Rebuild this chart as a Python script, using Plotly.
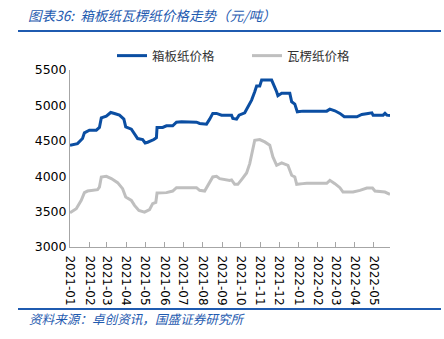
import plotly.graph_objects as go

blue_dates = ["2021-01-01","2021-01-13","2021-01-21","2021-01-24","2021-02-01","2021-02-12","2021-02-17","2021-02-20",
"2021-02-28","2021-03-07","2021-03-13","2021-03-21","2021-03-28","2021-03-31","2021-04-09","2021-04-14","2021-04-19",
"2021-04-27","2021-05-01","2021-05-05","2021-05-15","2021-05-19","2021-05-20","2021-05-29","2021-06-04","2021-06-14",
"2021-06-20","2021-06-28","2021-07-22","2021-07-27","2021-08-07","2021-08-12","2021-08-17","2021-08-23","2021-08-31",
"2021-09-16","2021-09-18","2021-09-24","2021-09-28","2021-10-07","2021-10-12","2021-10-18","2021-10-23","2021-10-26",
"2021-10-31","2021-11-03","2021-11-19","2021-11-23","2021-11-27","2021-11-29","2021-12-05","2021-12-18","2021-12-21",
"2021-12-26","2021-12-30","2022-01-08","2022-02-15","2022-02-20","2022-02-28","2022-03-08","2022-03-15","2022-04-04",
"2022-04-12","2022-04-22","2022-04-28","2022-04-30","2022-05-16","2022-05-19","2022-05-22","2022-05-27"]
blue_vals = [4438,4460,4532,4612,4650,4650,4688,4824,4848,4900,4885,4862,4806,4697,4664,4603,4532,
4518,4470,4480,4518,4545,4688,4688,4711,4711,4763,4768,4763,4745,4735,4806,4887,4887,4862,
4862,4815,4806,4862,4895,4980,5075,5193,5273,5273,5358,5358,5287,5193,5136,5170,5170,5051,
5018,4909,4919,4919,4947,4924,4887,4839,4839,4872,4887,4895,4862,4862,4887,4862,4858]

gray_dates = ["2021-01-01","2021-01-11","2021-01-19","2021-01-24","2021-01-29","2021-02-14","2021-02-17","2021-02-20",
"2021-02-28","2021-03-08","2021-03-18","2021-03-26","2021-03-31","2021-04-09","2021-04-14","2021-04-21","2021-04-30",
"2021-05-08","2021-05-13","2021-05-18","2021-05-20","2021-06-04","2021-06-14","2021-06-20","2021-07-22","2021-07-27",
"2021-08-04","2021-08-09","2021-08-17","2021-08-23","2021-08-28","2021-09-13","2021-09-16","2021-09-21","2021-09-26",
"2021-10-02","2021-10-10","2021-10-15","2021-10-20","2021-10-23","2021-10-31","2021-11-08","2021-11-16","2021-11-21",
"2021-11-27","2021-12-05","2021-12-15","2021-12-21","2021-12-26","2021-12-29","2022-01-08","2022-01-14","2022-02-15",
"2022-02-20","2022-02-28","2022-03-08","2022-03-13","2022-03-29","2022-04-09","2022-04-20","2022-04-29","2022-05-03",
"2022-05-19","2022-05-27"]
gray_vals = [3484,3541,3659,3768,3790,3810,3847,3989,3998,3966,3909,3824,3705,3659,3588,3517,3493,
3527,3612,3630,3762,3768,3790,3838,3838,3800,3790,3871,3989,3998,3966,3940,3948,3885,3885,
3952,4045,4178,4367,4508,4518,4484,4438,4272,4154,4187,4154,4013,3989,3885,3895,3900,3900,
3942,3895,3838,3776,3776,3800,3833,3833,3790,3776,3744]

series_names = ["箱板纸价格", "瓦楞纸价格"]
y_ticks = [3000, 3500, 4000, 4500, 5000, 5500]
title_text = "图表36:  箱板纸瓦楞纸价格走势（元/吨）"
source_text = "资料来源：卓创资讯，国盛证券研究所"

BLUE = "#0B4EA2"
GRAY = "#BFBFBF"
TXT_BLUE = "#1F5BB0"

PL, PR, PT, PB = 70, 390, 70, 247
PW, PH = PR - PL, PB - PT

def px(x):
    return (x - PL) / PW

def py(y):
    return (PB - y) / PH

fig = go.Figure()
fig.add_trace(go.Scatter(x=blue_dates, y=blue_vals, mode="lines", name=series_names[0],
                         line=dict(color=BLUE, width=3)))
fig.add_trace(go.Scatter(x=gray_dates, y=gray_vals, mode="lines", name=series_names[1],
                         line=dict(color=GRAY, width=3)))

fig.update_layout(
    width=444, height=339,
    margin=dict(l=PL, r=444 - PR, t=PT, b=339 - PB),
    paper_bgcolor="white", plot_bgcolor="white",
    font=dict(family="Noto Sans CJK SC, DejaVu Sans", color="#000000"),
    showlegend=True,
    legend=dict(orientation="h", x=px(112), xanchor="left", y=py(56), yanchor="middle",
                font=dict(size=12.5, color="#333333"), entrywidth=90, entrywidthmode="pixels",
                itemwidth=30, bgcolor="rgba(0,0,0,0)"),
    xaxis=dict(type="date", range=["2021-01-01", "2022-05-27"],
               dtick="M1", tick0="2021-01-01", tickformat="%Y-%m", tickangle=90,
               showgrid=False, showline=True, linecolor="#A6A6A6", linewidth=1,
               ticks="inside", ticklen=5, tickcolor="#A6A6A6", ticklabelstandoff=5,
               tickfont=dict(size=12, family="DejaVu Sans", color="#000000")),
    yaxis=dict(range=[3000, 5500], tickvals=y_ticks, showgrid=False, showline=True,
               linecolor="#A6A6A6", linewidth=1, ticks="", zeroline=False,
               tickfont=dict(size=12.5, family="DejaVu Sans", color="#000000")),
)

fig.add_annotation(text="<i>" + title_text + "</i>", xref="paper", yref="paper",
                   x=px(26), y=py(15), xanchor="left", yanchor="middle",
                   showarrow=False, font=dict(size=13.6, color=TXT_BLUE, family="Noto Sans CJK SC"))
fig.add_annotation(text="<i>" + source_text + "</i>", xref="paper", yref="paper",
                   x=px(27), y=py(318), xanchor="left", yanchor="middle",
                   showarrow=False, font=dict(size=12.6, color=TXT_BLUE, family="Noto Sans CJK SC"))

fig.add_shape(type="line", xref="paper", yref="paper",
              x0=px(18), x1=px(441), y0=py(31), y1=py(31),
              line=dict(color="#1F5BB0", width=2))
fig.add_shape(type="line", xref="paper", yref="paper",
              x0=px(18), x1=px(441), y0=py(309), y1=py(309),
              line=dict(color="#1F5BB0", width=2))

fig.write_html("out.html")
